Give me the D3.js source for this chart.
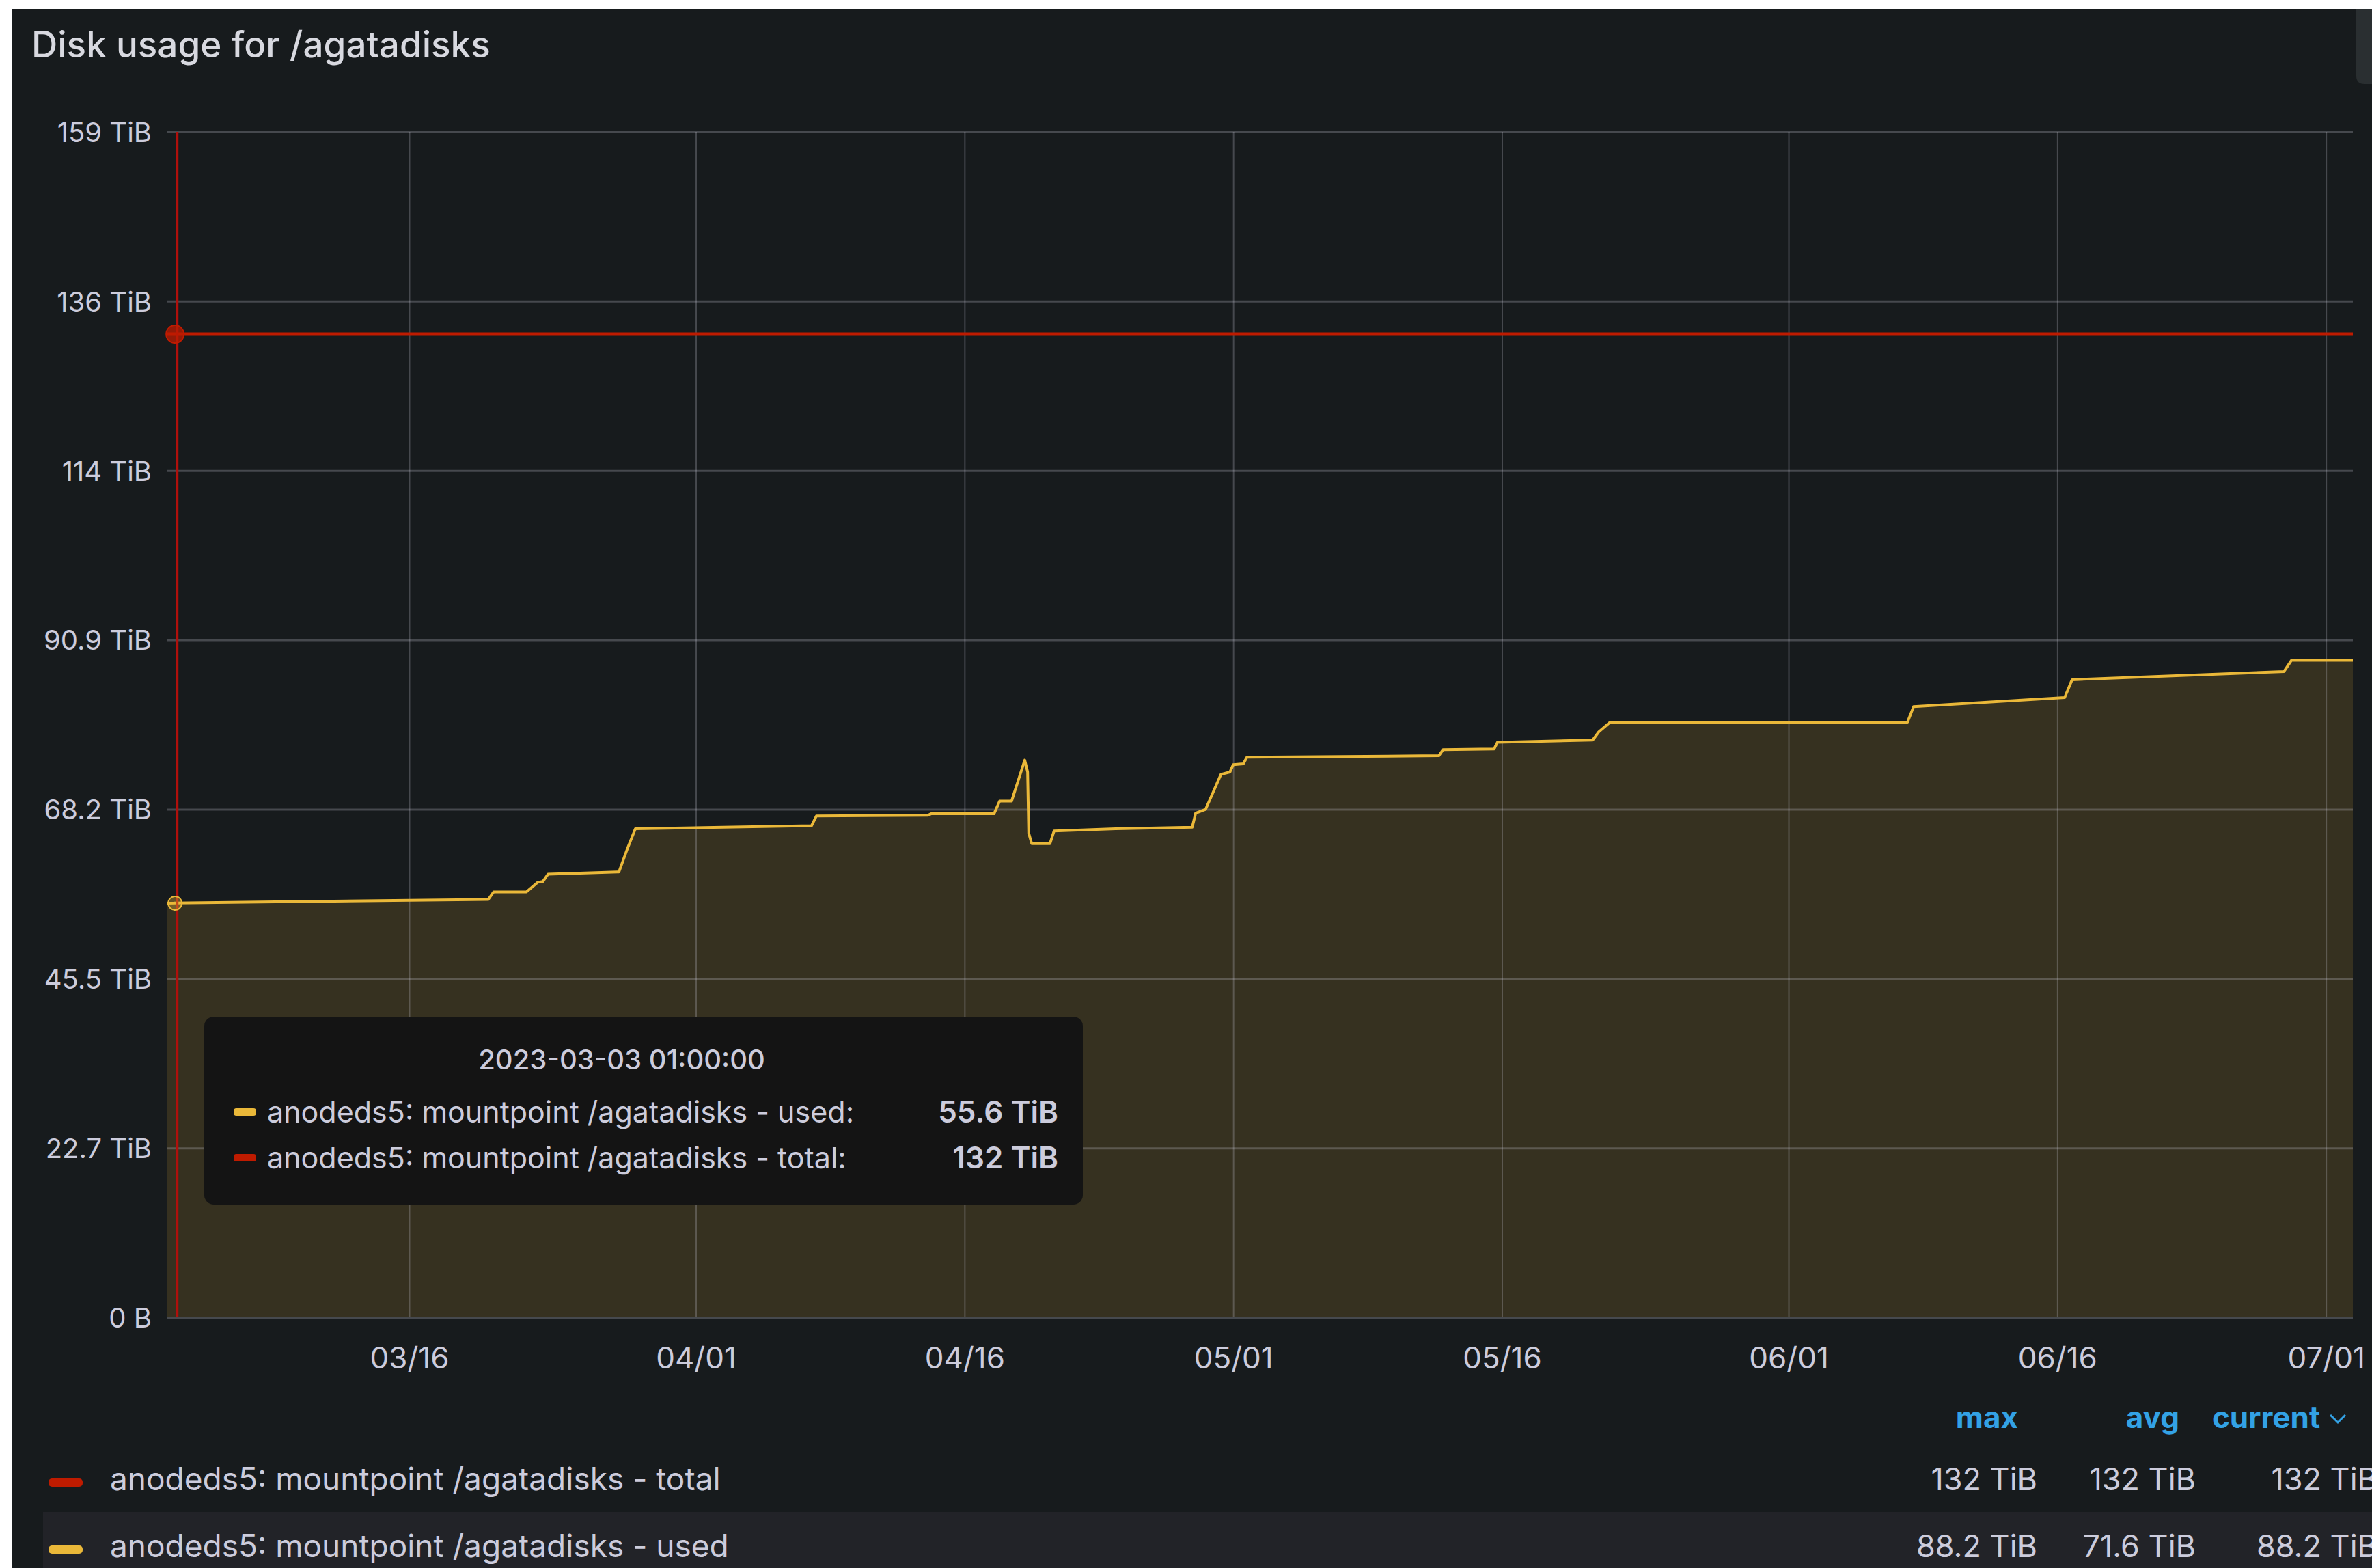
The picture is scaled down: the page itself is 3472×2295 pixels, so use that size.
<!DOCTYPE html>
<html>
<head>
<meta charset="utf-8">
<script src="https://cdn.jsdelivr.net/npm/d3@7"></script>
<style>
  html, body { margin: 0; padding: 0; background: #ffffff; }
  svg { display: block; }
  text { font-family: Inter, "Noto Sans", sans-serif; }
</style>
</head>
<body>
<svg id="chart" width="3472" height="2295"></svg>
<script>
// ---------- data ----------
const title = "Disk usage for /agatadisks";
const seriesNames = ["anodeds5: mountpoint /agatadisks - total", "anodeds5: mountpoint /agatadisks - used"];
const seriesColors = ["#BF1B00", "#EAB839"];

const usedDates = [
  "2023-03-02T12:00", "2023-03-20T10:00", "2023-03-20T17:00", "2023-03-22T13:00",
  "2023-03-23T04:00", "2023-03-23T11:00", "2023-03-23T18:00", "2023-03-27T15:00",
  "2023-03-27T17:00", "2023-03-28T05:00", "2023-03-28T15:00", "2023-04-07T11:00",
  "2023-04-07T17:30", "2023-04-13T23:00", "2023-04-14T03:00", "2023-04-17T15:30",
  "2023-04-17T23:00", "2023-04-18T15:00", "2023-04-19T08:40", "2023-04-19T12:30",
  "2023-04-19T14:00", "2023-04-19T18:00", "2023-04-20T18:30", "2023-04-21T00:00",
  "2023-04-24T10:30", "2023-04-28T17:00", "2023-04-28T21:40", "2023-04-29T11:00",
  "2023-04-30T07:30", "2023-04-30T19:30", "2023-05-01T00:00", "2023-05-01T13:30",
  "2023-05-01T18:20", "2023-05-12T11:30", "2023-05-12T17:00", "2023-05-15T13:30",
  "2023-05-15T18:00", "2023-05-21T01:30", "2023-05-21T09:40", "2023-05-22T01:00",
  "2023-06-07T15:20", "2023-06-07T23:30", "2023-06-16T09:50", "2023-06-16T19:50",
  "2023-06-28T15:40", "2023-06-29T01:40", "2023-07-02T12:00"
];
const usedValues = [
  55.6, 56.1, 57.1, 57.1,
  58.4, 58.5, 59.5, 59.8,
  59.8, 63.1, 65.6, 66.0,
  67.3, 67.4, 67.6, 67.6,
  69.3, 69.3, 74.8, 73.2,
  65.0, 63.6, 63.6, 65.3,
  65.6, 65.8, 67.7, 68.2,
  72.9, 73.2, 74.2, 74.3,
  75.2, 75.4, 76.2, 76.3,
  77.2, 77.5, 78.6, 79.9,
  79.9, 82.0, 83.2, 85.6,
  86.7, 88.2, 88.2
];
const totalDates = ["2023-03-02T12:00", "2023-07-02T12:00"];
const totalValues = [132, 132];

const timeDomain = ["2023-03-02T12:00", "2023-07-02T12:00"];
const xTickDates = ["2023-03-16", "2023-04-01", "2023-04-16", "2023-05-01", "2023-05-16", "2023-06-01", "2023-06-16", "2023-07-01"];
const xTickLabels = ["03/16", "04/01", "04/16", "05/01", "05/16", "06/01", "06/16", "07/01"];

// y ticks: steps of 25 TB expressed in TiB
const yTickValues = [0, 22.7374, 45.4747, 68.2121, 90.9495, 113.6868, 136.4242, 159.1616];
const yTickLabels = ["0 B", "22.7 TiB", "45.5 TiB", "68.2 TiB", "90.9 TiB", "114 TiB", "136 TiB", "159 TiB"];
const yMax = 159.1616;

const tooltipTime = "2023-03-03 01:00:00";
const tooltipDate = "2023-03-03T01:00";
const tooltipNames = ["anodeds5: mountpoint /agatadisks - used:", "anodeds5: mountpoint /agatadisks - total:"];
const tooltipValues = ["55.6 TiB", "132 TiB"];
const tooltipColors = ["#EAB839", "#BF1B00"];

const legendHeaders = ["max", "avg", "current"];
const legendRows = [
  { name: "anodeds5: mountpoint /agatadisks - total", color: "#BF1B00", stats: ["132 TiB", "132 TiB", "132 TiB"] },
  { name: "anodeds5: mountpoint /agatadisks - used", color: "#EAB839", stats: ["88.2 TiB", "71.6 TiB", "88.2 TiB"] }
];

// ---------- drawing ----------
const W = 3472, H = 2295;
const svg = d3.select("#chart");
const parse = d3.utcParse("%Y-%m-%dT%H:%M");
const parseDay = d3.utcParse("%Y-%m-%d");

const panel = { x: 18, y: 13 };
const plot = { left: 245, right: 3444, top: 193, bottom: 1928 };

const textColor = "#ccccdc";
const bg = "#171b1d";

svg.append("rect").attr("x", panel.x).attr("y", panel.y)
  .attr("width", W - panel.x).attr("height", H - panel.y).attr("fill", bg);

// scrollbar nub at top right
svg.append("path")
  .attr("d", `M3449,13 L3472,13 L3472,123 L3461,123 Q3449,123 3449,111 Z`)
  .attr("fill", "#2a2f31");

// title
svg.append("text").attr("x", 46).attr("y", 84)
  .attr("font-size", 53).attr("font-weight", 500).attr("fill", "#d8d9e0")
  .text(title);

const x = d3.scaleUtc().domain(timeDomain.map(parse)).range([plot.left, plot.right]);
const y = d3.scaleLinear().domain([0, yMax]).range([plot.bottom, plot.top]);

const usedData = usedDates.map((d, i) => ({ t: parse(d), v: usedValues[i] }));
const totalData = totalDates.map((d, i) => ({ t: parse(d), v: totalValues[i] }));

// area fill
svg.append("path").datum(usedData)
  .attr("d", d3.area().x(d => x(d.t)).y0(y(0)).y1(d => y(d.v)))
  .attr("fill", seriesColors[1]).attr("fill-opacity", 0.15);

// grid
const gridColor = "rgba(204,204,220,0.26)";
const yGrid = svg.append("g").attr("transform", `translate(${plot.left},0)`)
  .call(d3.axisLeft(y).tickValues(yTickValues).tickSize(-(plot.right - plot.left)).tickFormat(""));
yGrid.select(".domain").remove();
yGrid.selectAll("line").attr("stroke", gridColor).attr("stroke-width", 3);

const xGrid = svg.append("g").attr("transform", `translate(0,${plot.bottom})`)
  .call(d3.axisBottom(x).tickValues(xTickDates.map(parseDay)).tickSize(-(plot.bottom - plot.top)).tickFormat(""));
xGrid.select(".domain").remove();
xGrid.selectAll("line").attr("stroke", gridColor).attr("stroke-width", 2);

// y axis labels
const yAxis = svg.append("g").attr("transform", `translate(222,0)`)
  .call(d3.axisLeft(y).tickValues(yTickValues).tickSize(0).tickPadding(0)
    .tickFormat((d, i) => yTickLabels[i]));
yAxis.select(".domain").remove();
yAxis.selectAll("text").attr("font-size", 40).attr("fill", textColor)
  .attr("font-family", "Inter, sans-serif").attr("dy", "0.36em").attr("text-anchor", "end").attr("x", 0);

// x axis labels
const xAxis = svg.append("g").attr("transform", `translate(0,${plot.bottom})`)
  .call(d3.axisBottom(x).tickValues(xTickDates.map(parseDay)).tickSize(0).tickPadding(0)
    .tickFormat((d, i) => xTickLabels[i]));
xAxis.select(".domain").remove();
xAxis.selectAll("text").attr("font-size", 44).attr("fill", textColor)
  .attr("font-family", "Inter, sans-serif").attr("y", 75).attr("dy", 0);

// lines
const line = d3.line().x(d => x(d.t)).y(d => y(d.v));
svg.append("path").datum(totalData).attr("d", line)
  .attr("fill", "none").attr("stroke", seriesColors[0]).attr("stroke-width", 5);
svg.append("path").datum(usedData).attr("d", line)
  .attr("fill", "none").attr("stroke", seriesColors[1]).attr("stroke-width", 4)
  .attr("stroke-linejoin", "round");

// hover cursor
const tc = parse(tooltipDate);
svg.append("line").attr("x1", x(tc)).attr("x2", x(tc)).attr("y1", plot.top).attr("y2", plot.bottom)
  .attr("stroke", "#b0100c").attr("stroke-width", 4);
svg.append("circle").attr("cx", x(tc) - 3).attr("cy", y(132)).attr("r", 13)
  .attr("fill", "#BF1B00").attr("fill-opacity", 0.75).attr("stroke", "#BF1B00").attr("stroke-width", 2);
svg.append("circle").attr("cx", x(tc) - 3).attr("cy", y(55.6)).attr("r", 10)
  .attr("fill", "#EAB839").attr("fill-opacity", 0.35).attr("stroke", "#EAB839").attr("stroke-width", 2);

// tooltip
const tt = svg.append("g");
tt.append("rect").attr("x", 299).attr("y", 1488).attr("width", 1286).attr("height", 275)
  .attr("rx", 14).attr("fill", "#141414");
tt.append("text").attr("x", 910).attr("y", 1565).attr("text-anchor", "middle")
  .attr("font-size", 40).attr("font-weight", 500).attr("fill", textColor).text(tooltipTime);
tooltipNames.forEach((n, i) => {
  const by = 1643 + i * 67;
  tt.append("rect").attr("x", 342).attr("y", by - 21).attr("width", 33).attr("height", 11)
    .attr("rx", 4).attr("fill", tooltipColors[i]);
  tt.append("text").attr("x", 391).attr("y", by).attr("font-size", 43).attr("fill", textColor).text(n);
  tt.append("text").attr("x", 1549).attr("y", by).attr("text-anchor", "end")
    .attr("font-size", 44).attr("font-weight", 600).attr("fill", textColor).text(tooltipValues[i]);
});

// legend
const colRight = [2982, 3214, 3480];
const hdrRight = [2954, 3190, 3396];
legendHeaders.forEach((h, i) => {
  svg.append("text").attr("x", hdrRight[i]).attr("y", 2090).attr("text-anchor", "end")
    .attr("font-size", 44).attr("font-weight", 700).attr("fill", "#33A2E5").text(h);
});
// chevron after "current"
svg.append("path").attr("d", "M3411,2071 L3422,2082 L3433,2071")
  .attr("fill", "none").attr("stroke", "#33A2E5").attr("stroke-width", 3);

svg.append("rect").attr("x", 63).attr("y", 2213).attr("width", W - 63).attr("height", H - 2213)
  .attr("fill", "#222328");

legendRows.forEach((r, i) => {
  const by = 2181 + i * 98;
  svg.append("rect").attr("x", 71).attr("y", by - 17).attr("width", 50).attr("height", 12)
    .attr("rx", 5).attr("fill", r.color);
  svg.append("text").attr("x", 161).attr("y", by).attr("font-size", 46).attr("fill", textColor).text(r.name);
  r.stats.forEach((s, j) => {
    svg.append("text").attr("x", colRight[j]).attr("y", by).attr("text-anchor", "end")
      .attr("font-size", 45).attr("fill", textColor).text(s);
  });
});
</script>
</body>
</html>
